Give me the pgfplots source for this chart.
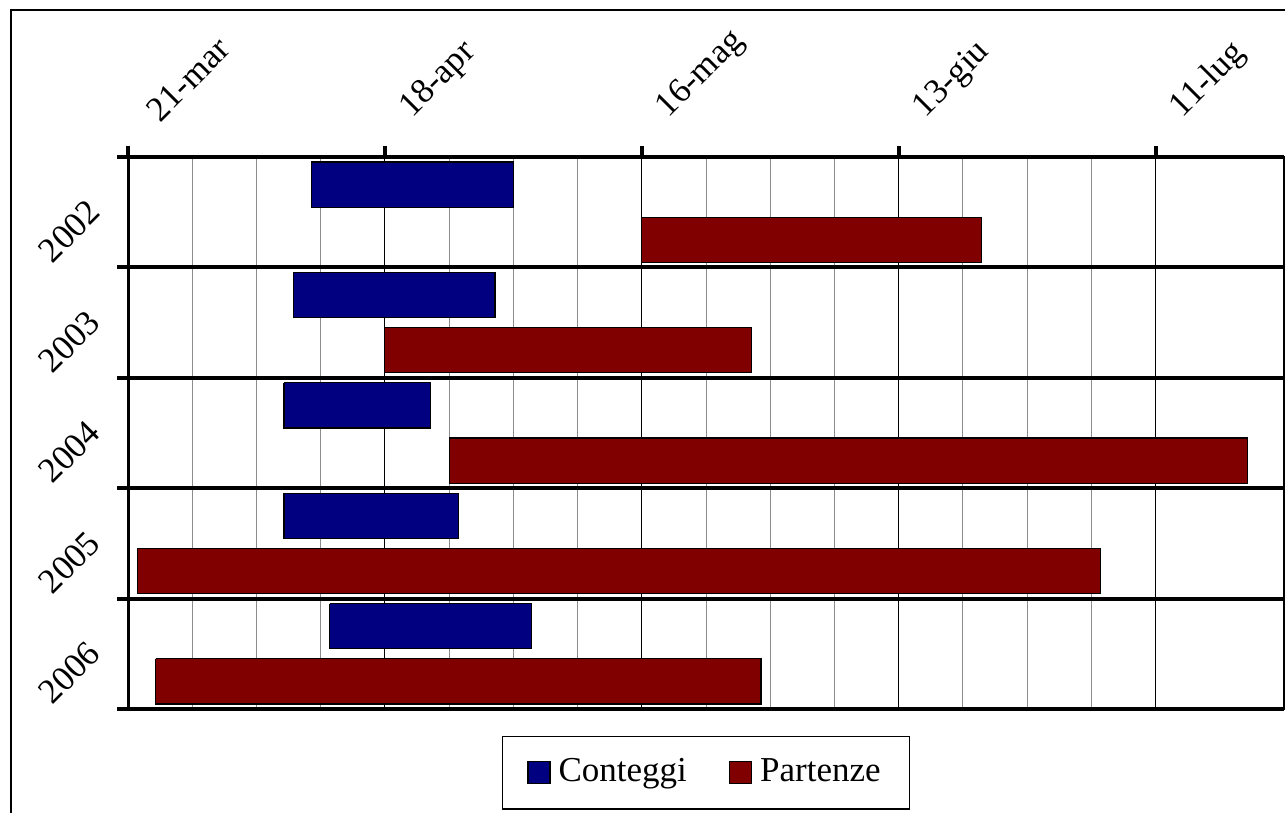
\documentclass[border=0pt]{standalone}
\usepackage{fontspec}
\setmainfont{Liberation Serif}
\usepackage{pgfplots}
\pgfplotsset{compat=1.18}
\definecolor{conteggi}{HTML}{000080}
\definecolor{partenze}{HTML}{800000}

\begin{document}
\fontsize{17.5}{21}\selectfont
\begin{tikzpicture}
  \useasboundingbox (0,0) rectangle (642.5pt,406.5pt);
  % outer chart frame (cut by the picture on the right and at the bottom)
  \draw[line width=1pt] (5.25pt,-10pt) -- (5.25pt,401.25pt) -- (700pt,401.25pt);
  \begin{axis}[
    at={(64pt,52pt)}, anchor=south west,
    width=578pt, height=276pt, scale only axis,
    xmin=0, xmax=126, ymin=0, ymax=5, y dir=reverse,
    % x = days since 21 March
    xtick={0,28,56,84,112},
    xticklabels={21-mar,18-apr,16-mag,13-giu,11-lug},
    minor x tick num=3,
    xtick pos=right, xticklabel pos=right,
    ytick={0,1,2,3,4,5}, yticklabels={}, ytick pos=left,
    extra y ticks={0.5,1.5,2.5,3.5,4.5},
    extra y tick labels={2002,2003,2004,2005,2006},
    extra y tick style={major tick length=0pt, grid=none},
    tick align=outside,
    major tick length=5.5pt, minor tick length=0pt,
    tick style={line width=2pt, black},
    xmajorgrids, xminorgrids, ymajorgrids,
    major x grid style={line width=0.6pt, black},
    minor x grid style={line width=0.5pt, gray!90},
    major y grid style={line width=2pt, black},
    axis line style={line width=0.8pt},
    xticklabel style={rotate=45, anchor=south west, xshift=13.4pt, yshift=-9.5pt},
    yticklabel style={rotate=45, anchor=east, xshift=-3.9pt, yshift=14pt},
    unbounded coords=jump,
    legend columns=2,
    legend style={at={(0.5,-0.049)}, anchor=north, draw=black,
      line width=0.6pt, inner xsep=12.5pt, inner ysep=9pt,
      /tikz/every odd column/.append style={column sep=2pt},
      /tikz/every even column/.append style={column sep=19pt}},
    legend image code/.code={
      \draw[#1, line width=0.6pt] (0pt,-5.5pt) rectangle (11pt,5.5pt);},
  ]
    % Conteggi: start..end (days), one rectangle per year
    \addplot[fill=conteggi, draw=black, line width=0.6pt] coordinates {
      (20,0.045) (42,0.045) (42,0.455) (20,0.455) (20,0.045) (nan,nan)
      (18,1.045) (40,1.045) (40,1.455) (18,1.455) (18,1.045) (nan,nan)
      (17,2.045) (33,2.045) (33,2.455) (17,2.455) (17,2.045) (nan,nan)
      (17,3.045) (36,3.045) (36,3.455) (17,3.455) (17,3.045) (nan,nan)
      (22,4.045) (44,4.045) (44,4.455) (22,4.455) (22,4.045)
    };
    \addlegendentry{Conteggi}
    % Partenze
    \addplot[fill=partenze, draw=black, line width=0.6pt] coordinates {
      (56,0.545) (93,0.545) (93,0.955) (56,0.955) (56,0.545) (nan,nan)
      (28,1.545) (68,1.545) (68,1.955) (28,1.955) (28,1.545) (nan,nan)
      (35,2.545) (122,2.545) (122,2.955) (35,2.955) (35,2.545) (nan,nan)
      (1,3.545) (106,3.545) (106,3.955) (1,3.955) (1,3.545) (nan,nan)
      (3,4.545) (69,4.545) (69,4.955) (3,4.955) (3,4.545)
    };
    \addlegendentry{Partenze}
    % thick left axis line
    \draw[line width=2pt] (rel axis cs:0,0) -- (rel axis cs:0,1);
  \end{axis}
\end{tikzpicture}
\end{document}
